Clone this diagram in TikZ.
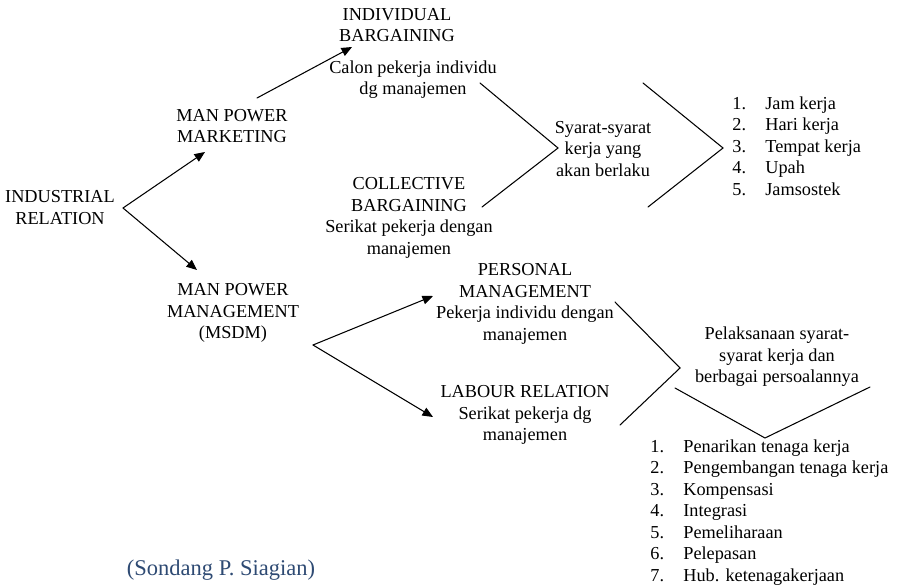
\documentclass[tikz,border=0pt]{standalone}
\usepackage{fontspec}
\setmainfont{Liberation Serif}
\usetikzlibrary{arrows.meta}

\definecolor{citeblue}{RGB}{46,74,115}

\begin{document}
\begin{tikzpicture}[x=0.02cm,y=-0.02cm,line cap=round]
  % Styles
  \tikzset{
    txt/.style={inner sep=0pt,align=center,font=\fontsize{10.4}{12.2}\selectfont},
    arr/.style={-{Triangle[length=6pt,width=5pt]},line width=0.6pt},
    brace/.style={line width=0.6pt}
  }
  \useasboundingbox (0,0) rectangle (901,587);

  % Left part
  \node[txt] (ir) at (60,207.5) {INDUSTRIAL\\RELATION};
  \node[txt] (mpm) at (232,126) {MAN POWER\\MARKETING};
  \node[txt] (msdm) at (233,313) {MAN POWER\\MANAGEMENT\\(MSDM)};

  % Bargaining
  \node[txt] (ib) at (397,25) {INDIVIDUAL\\BARGAINING};
  \node[txt] (ibtxt) at (413,79.5) {Calon pekerja individu\\dg manajemen};
  \node[txt] (cb) at (409,218) {COLLECTIVE\\BARGAINING\\Serikat pekerja dengan\\manajemen};

  % Management
  \node[txt] (pm) at (525,304) {PERSONAL\\MANAGEMENT\\Pekerja individu dengan\\manajemen};
  \node[txt] (lr) at (525,415) {LABOUR RELATION\\Serikat pekerja dg\\manajemen};

  % Results
  \node[txt] (syarat) at (603,149) {Syarat-syarat\\kerja yang\\akan berlaku};
  \node[txt] (pel) at (777,357) {Pelaksanaan syarat-\\syarat kerja dan\\berbagai persoalannya};

  \node[txt,anchor=west] (list1) at (732,148) {%
    \begin{tabular}{@{}p{18.8pt}@{}l@{}}
      1. & Jam kerja\\
      2. & Hari kerja\\
      3. & Tempat kerja\\
      4. & Upah\\
      5. & Jamsostek
    \end{tabular}};
  \node[txt,anchor=west] (list2) at (650,512.5) {%
    \begin{tabular}{@{}p{18.8pt}@{}l@{}}
      1. & Penarikan tenaga kerja\\
      2. & Pengembangan tenaga kerja\\
      3. & Kompensasi\\
      4. & Integrasi\\
      5. & Pemeliharaan\\
      6. & Pelepasan\\
      7. & Hub. ketenagakerjaan
    \end{tabular}};

  \node[inner sep=0pt,text=citeblue,font=\fontsize{12.8}{15}\selectfont] (cite) at (221,570) {(Sondang P. Siagian)};

  % Arrow ends
  \coordinate (irOut) at (123,208);
  \coordinate (mpmIn) at (205,152);
  \coordinate (msdmIn) at (197,270);
  \coordinate (mpmOut) at (257,98);
  \coordinate (ibIn) at (352,47);
  \coordinate (msdmOut) at (313,345);
  \coordinate (pmIn) at (433,296);
  \coordinate (lrIn) at (433,417);

  \draw[arr] (irOut) -- (mpmIn);
  \draw[arr] (irOut) -- (msdmIn);
  \draw[arr] (mpmOut) -- (ibIn);
  \draw[arr] (msdmOut) -- (pmIn);
  \draw[arr] (msdmOut) -- (lrIn);

  % Brackets
  \draw[brace] (480,83) -- (558,148) -- (482,207);
  \draw[brace] (643,83) -- (723,148) -- (648,207);
  \draw[brace] (615,302) -- (680,368) -- (620,425);
  \draw[brace] (675,388) -- (765,438) -- (870,387);
\end{tikzpicture}
\end{document}
